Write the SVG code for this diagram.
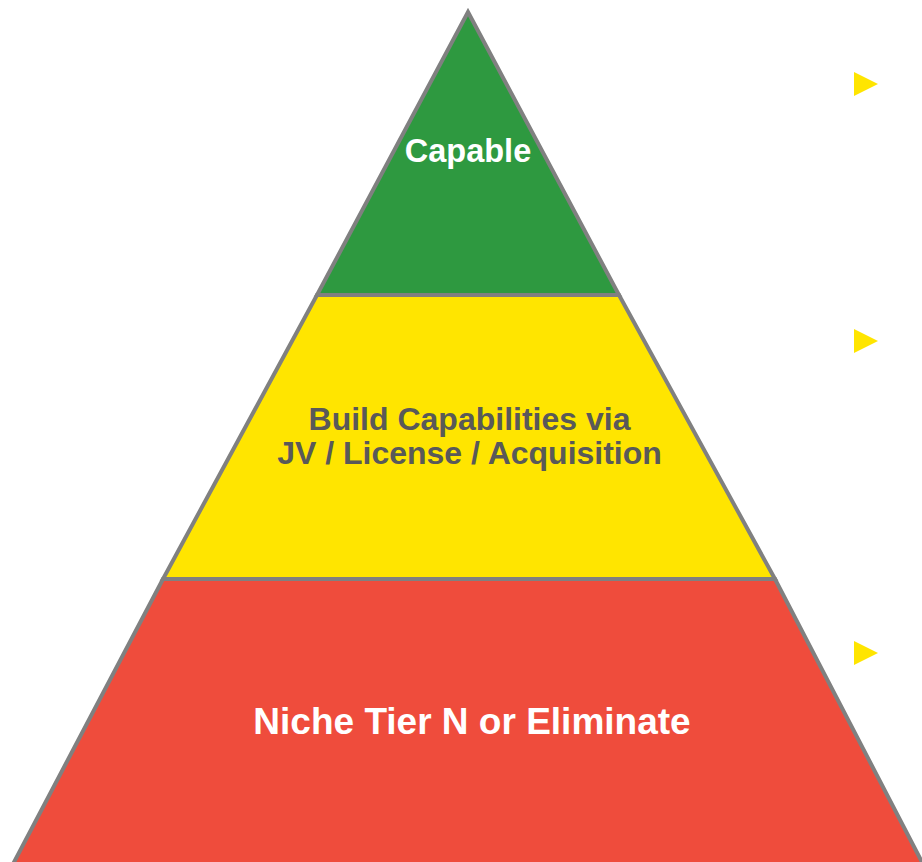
<svg xmlns="http://www.w3.org/2000/svg" width="922" height="862" viewBox="0 0 922 862">
<style>
.layer{stroke:#808080;stroke-width:4;stroke-linejoin:miter}
.t{font-family:"Liberation Sans",Arial,sans-serif;font-weight:bold;text-anchor:middle}
.arrow{fill:#FFE500}
</style>
<rect width="922" height="862" fill="#fff"/>
<g id="layer-capable">
<polygon class="layer" fill="#2E9940" points="468,12 619,295 317,295"/>
<text class="t" x="468" y="162" font-size="32.5" fill="#fff">Capable</text>
</g>
<g id="layer-build">
<polygon class="layer" fill="#FFE500" points="317,295 619,295 775,579 163,579"/>
<text class="t" x="469.5" y="430" font-size="32" fill="#595959">Build Capabilities via</text>
<text class="t" x="469.5" y="464" font-size="32" fill="#595959">JV / License / Acquisition</text>
</g>
<g id="layer-niche">
<polygon class="layer" fill="#EF4C3C" points="163,579 775,579 924,866 12,866"/>
<text class="t" x="472" y="734" font-size="37" fill="#fff">Niche Tier N or Eliminate</text>
</g>
<g id="arrows">
<polygon class="arrow" points="854,72 878,84 854,96"/>
<polygon class="arrow" points="854,329 878,341 854,353"/>
<polygon class="arrow" points="854,641 878,653 854,665"/>
</g>
</svg>
